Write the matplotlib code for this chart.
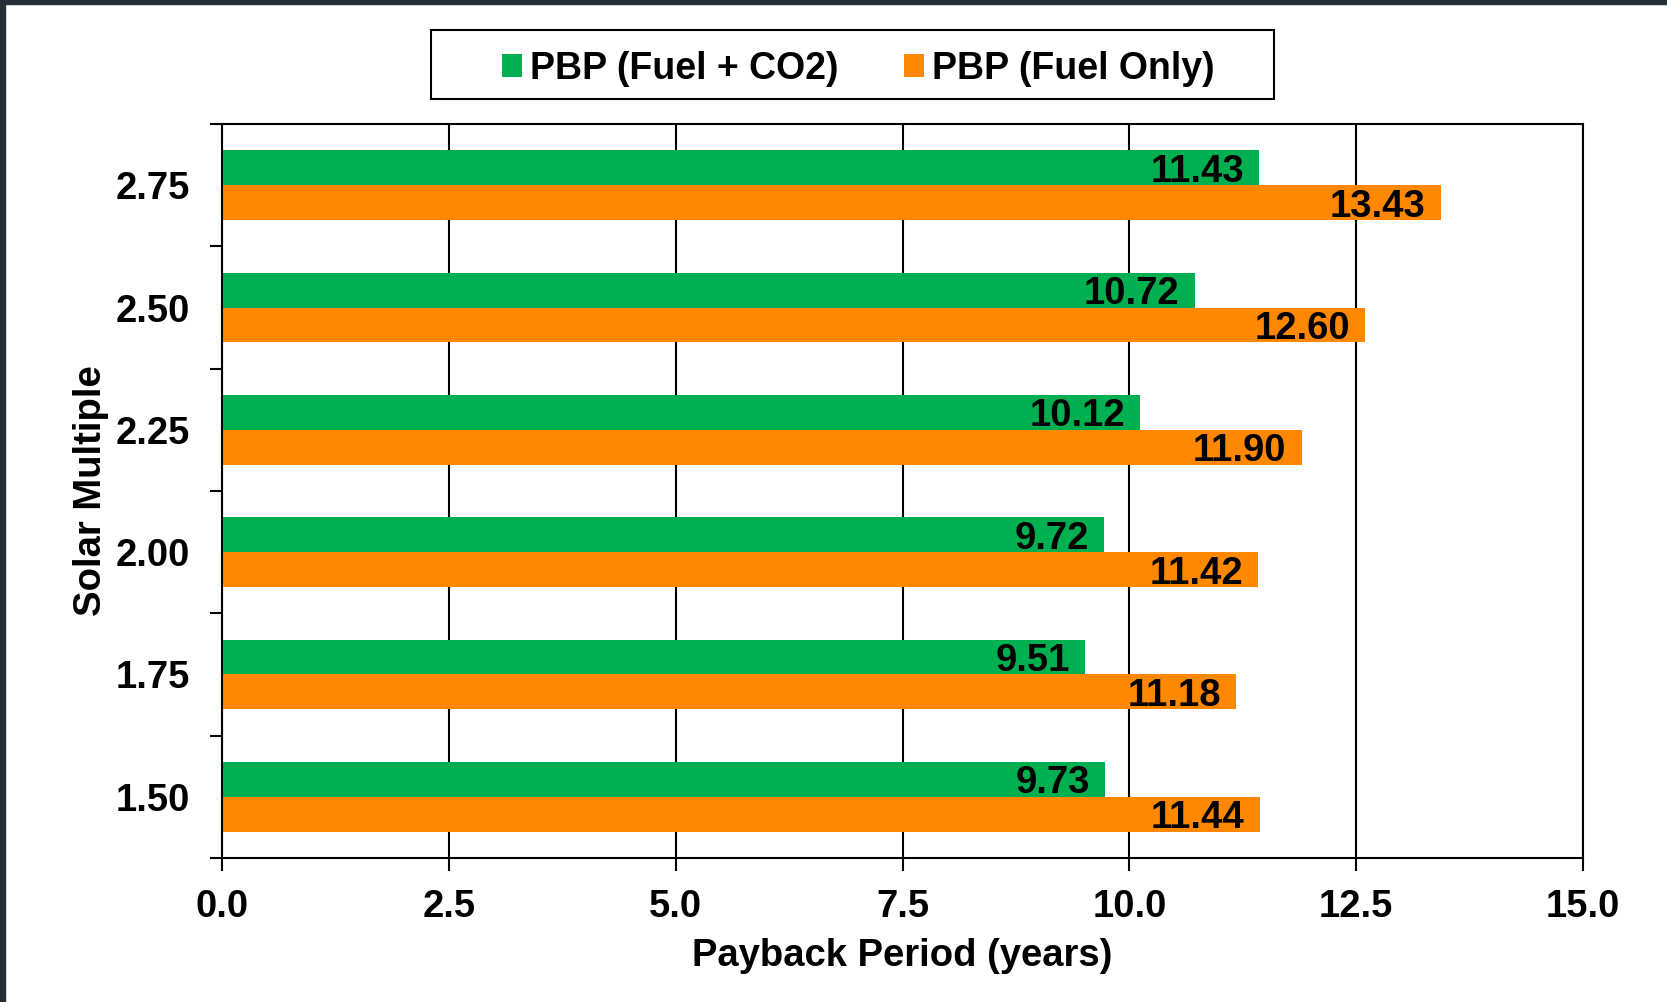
import matplotlib
matplotlib.use("Agg")
import matplotlib.pyplot as plt
from matplotlib.patches import Rectangle
import numpy as np

plt.rcParams['font.family'] = ['Liberation Sans', 'DejaVu Sans']
plt.rcParams['font.weight'] = 'bold'

# datos
multiplos = ["1.50", "1.75", "2.00", "2.25", "2.50", "2.75"]
pbp_fuel_co2 = [9.73, 9.51, 9.72, 10.12, 10.72, 11.43]
pbp_fuel_only = [11.44, 11.18, 11.42, 11.90, 12.60, 13.43]
xticks = [0.0, 2.5, 5.0, 7.5, 10.0, 12.5, 15.0]

verde = "#00B050"
naranja = "#FF8800"
fs = 27.5

W, H = 1667, 1002
fig = plt.figure(figsize=(W / 100, H / 100), dpi=100)
ax = fig.add_axes([222 / W, 1 - 858 / H, (1583 - 222) / W, (858 - 124) / H])

y = np.arange(len(multiplos))
h = 0.286
b1 = ax.barh(y + h / 2, pbp_fuel_co2, height=h, color=verde, label="PBP (Fuel + CO2)", zorder=3)
b2 = ax.barh(y - h / 2, pbp_fuel_only, height=h, color=naranja, label="PBP (Fuel Only)", zorder=3)

for barras in (b1, b2):
    ax.bar_label(barras, labels=[f"{v:.2f}" for v in barras.datavalues], padding=-11,
                 fontsize=fs, fontweight='bold', color='black', zorder=4)
# etiquetas dentro de la barra, pegadas al final
for t in ax.texts:
    t.set_ha('right')
    t.set_va('center_baseline')

ax.set_xlim(0, 15)
ax.set_ylim(-0.5, len(multiplos) - 0.5)
ax.set_xticks(xticks)
ax.set_xticklabels([f"{v:.1f}" for v in xticks], fontsize=fs, fontweight='bold')
ax.set_yticks(y)
ax.set_yticklabels(multiplos, fontsize=fs, fontweight='bold')
ax.set_yticks(np.arange(-0.5, len(multiplos), 1.0), minor=True)
ax.tick_params(axis='y', which='major', length=0, pad=23)
ax.tick_params(axis='y', which='minor', length=9, width=1.5, direction='out')
ax.tick_params(axis='x', which='major', length=9, width=1.5, direction='out', pad=13)

ax.grid(axis='x', color='black', linewidth=1.5, zorder=1)
for s in ax.spines.values():
    s.set_linewidth(1.5)
    s.set_zorder(5)

xl = ax.set_xlabel("Payback Period (years)", fontsize=fs, fontweight='bold')
yl = ax.set_ylabel("Solar Multiple", fontsize=fs, fontweight='bold')
ax.xaxis.set_label_coords((902 - 222) / (1583 - 222), (858 - 956) / (858 - 124))
ax.yaxis.set_label_coords((91 - 222) / (1583 - 222), (858 - 491) / (858 - 124))
xl.set_va('center')
yl.set_va('center')

leg = fig.legend(handles=[b1, b2], loc='center', bbox_to_anchor=(858 / W, 1 - 69 / H), ncol=2,
                 fontsize=27, frameon=False,
                 handlelength=0.55, handleheight=0.55, handletextpad=0.2,
                 columnspacing=1.75)
for t in leg.get_texts():
    t.set_fontweight('bold')
# caja de la leyenda
fig.add_artist(Rectangle((431 / W, 1 - 99 / H), (1274 - 431) / W, 69 / H, transform=fig.transFigure,
                         facecolor='none', edgecolor='black', linewidth=1.5))

# marco oscuro arriba e izquierda
fig.add_artist(Rectangle((0, 0), 5 / W, 1, transform=fig.transFigure, color="#262e36", zorder=10))
fig.add_artist(Rectangle((0, 1 - 4 / H), 1, 4 / H, transform=fig.transFigure, color="#262e36", zorder=10))

fig.savefig("out.png", dpi=100)
